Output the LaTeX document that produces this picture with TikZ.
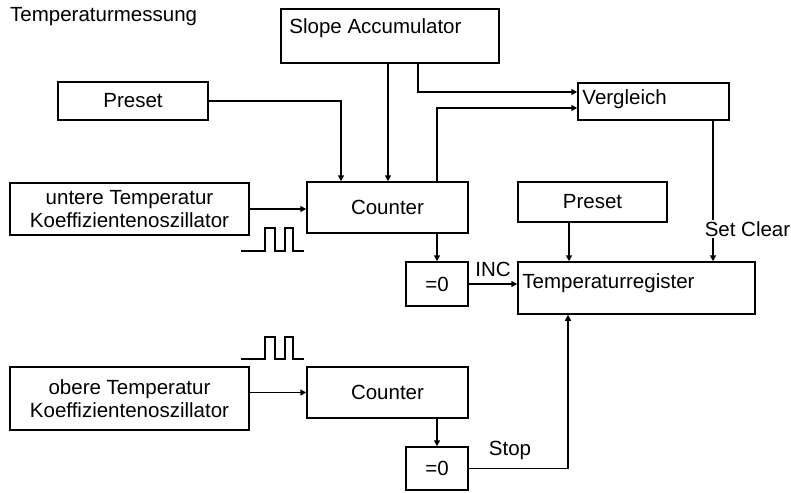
\documentclass[tikz,border=0pt]{standalone}
\usepackage{fontspec}
\setmainfont{Liberation Sans}
\usetikzlibrary{arrows.meta}
\begin{document}
\begin{tikzpicture}[x=1pt,y=-1pt,
  every node/.style={font=\fontsize{20.5}{23}\selectfont},
  blk/.style 2 args={draw, line width=1.5pt, minimum width=#1, minimum height=#2, inner sep=0pt, align=center},
  lbl/.style={inner sep=0pt},
  arr/.style={line width=1.5pt, -{Triangle[length=6pt,width=6pt]}},
  wire/.style={line width=1.5pt},
  pulse/.style={line width=1.1pt}]
\useasboundingbox (0,0) rectangle (791,492);
\node[lbl, anchor=west] (title) at (10,17) {Temperaturmessung};
% boxes
\node[blk={218pt}{54pt}, label={[lbl, anchor=west, xshift=9pt, yshift=8pt]west:Slope Accumulator}] (slope) at (390,36) {};
\node[blk={150pt}{38pt}] (preset1) at (133,101) {Preset};
\node[blk={151pt}{37pt}, label={[lbl, anchor=west, xshift=5pt, yshift=2.5pt]west:Vergleich}] (vergl) at (653.5,101.5) {};
\node[blk={239pt}{52pt}] (untere) at (129.5,209) {untere Temperatur\\Koeffizientenoszillator};
\node[blk={161pt}{51pt}] (counter1) at (387.5,207.5) {Counter};
\node[blk={149pt}{40pt}] (preset2) at (592.5,202) {Preset};
\node[blk={62pt}{44pt}] (eq1) at (437,284) {=0};
\node[blk={237pt}{52pt}, label={[lbl, anchor=west, xshift=5pt, yshift=5pt]west:Temperaturregister}] (treg) at (636.5,288) {};
\node[blk={239pt}{63pt}] (obere) at (129.5,398.5) {obere Temperatur\\Koeffizientenoszillator};
\node[blk={161pt}{51pt}] (counter2) at (387.5,392.5) {Counter};
\node[blk={62pt}{43pt}] (eq2) at (437,468.5) {=0};
% connectors
\draw[arr] (preset1) -| (counter1.north -| 341,0);
\draw[arr] (slope.south -| 388,0) -- (counter1.north -| 388,0);
\draw[arr] (slope.south -| 418,0) |- (vergl.west |- 0,92);
\draw[arr] (counter1.north -| 437,0) |- (vergl.west |- 0,108);
\draw[arr] (untere.east) -- (counter1.west |- untere.east);
\draw[arr] (counter1.south -| eq1.north) -- (eq1.north);
\draw[arr] (eq1.east) -- (treg.west |- eq1.east) node[lbl, pos=0.5, yshift=15pt] (inc) {INC};
\draw[arr] (preset2.south -| 569,0) -- (treg.north -| 569,0);
\draw[arr] (vergl.south -| 713,0) -- (treg.north -| 713,0);
\node[lbl, fill=white, inner sep=1pt] (setclear) at (747.5,229) {Set Clear};
\draw[arr] (obere.east |- counter2.west) -- (counter2.west);
\draw[arr] (counter2.south -| eq2.north) -- (eq2.north);
\draw[arr] (eq2.east) -| (treg.south -| 568,0);
\node[lbl] (stop) at (510,450) {Stop};
% pulses
\draw[pulse] (241,251) -- (265,251) -- (265,228) -- (275,228) -- (275,251) -- (285,251) -- (285,228) -- (293,228) -- (293,251) -- (304,251);
\draw[pulse] (241,359) -- (265,359) -- (265,337) -- (275,337) -- (275,359) -- (285,359) -- (285,337) -- (293,337) -- (293,359) -- (304,359);
\end{tikzpicture}
\end{document}
